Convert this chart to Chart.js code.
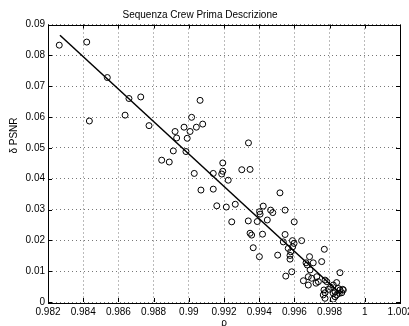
<!DOCTYPE html>
<html>
<head>
<meta charset="utf-8">
<script src="https://cdn.jsdelivr.net/npm/chart.js@4/dist/chart.umd.min.js"></script>
<style>
  body { margin: 0; background: #fff; }
  #wrap { width: 409px; height: 326px; }
</style>
</head>
<body>
<div id="wrap"><canvas id="myChart"></canvas></div>
<script>
// correlation coefficient (rho) against PSNR loss, one entry per frame
const rho = [
  0.98264, 0.9842, 0.98537, 0.9866, 0.98727, 0.98435, 0.98638, 0.98774, 0.99064, 0.99016,
  0.99079, 0.99043, 0.98973, 0.99007, 0.98922, 0.98931, 0.98991, 0.99339, 0.98912, 0.98984,
  0.98846, 0.98889, 0.99193, 0.99031, 0.99139, 0.99193, 0.99187, 0.99224, 0.99301, 0.99348,
  0.99069, 0.99139, 0.99159, 0.99213, 0.99264, 0.99518, 0.99423, 0.99402, 0.99405, 0.99465,
  0.99477, 0.99547, 0.99244, 0.99338, 0.99389, 0.99446, 0.99599, 0.99348, 0.99357, 0.99419,
  0.99547, 0.99537, 0.99589, 0.99598, 0.99641, 0.99366, 0.99565, 0.99579, 0.99575, 0.99575,
  0.9959, 0.99401, 0.99505, 0.99686, 0.9977, 0.99755, 0.99666, 0.99673, 0.99707, 0.99551,
  0.99585, 0.99689, 0.99859, 0.99651, 0.99679, 0.99698, 0.99727, 0.99736, 0.99723, 0.99774,
  0.99784, 0.99821, 0.9984, 0.99793, 0.99806, 0.99849, 0.99859, 0.99874, 0.99768, 0.99679,
  0.99764, 0.99774, 0.99821, 0.99831, 0.99831, 0.9984, 0.99855, 0.99869, 0.99878, 0.99821, 0.99774
];
const dPsnr = [
  0.0833, 0.0843, 0.0728, 0.066, 0.0665, 0.0587, 0.0606, 0.0572, 0.0654, 0.0599,
  0.0577, 0.0567, 0.0567, 0.0553, 0.0553, 0.0532, 0.0531, 0.0516, 0.049, 0.0488,
  0.046, 0.0454, 0.0451, 0.0417, 0.0417, 0.0424, 0.0415, 0.0395, 0.0429, 0.043,
  0.0363, 0.0366, 0.0312, 0.0308, 0.0317, 0.0354, 0.0311, 0.0293, 0.0285, 0.0298,
  0.029, 0.0298, 0.026, 0.0263, 0.0261, 0.0266, 0.026, 0.0223, 0.0217, 0.022,
  0.0219, 0.0195, 0.0199, 0.019, 0.0199, 0.0176, 0.0174, 0.0163, 0.0151, 0.0139,
  0.0179, 0.0147, 0.0152, 0.0147, 0.0171, 0.0131, 0.0127, 0.012, 0.0127, 0.0084,
  0.0098, 0.0104, 0.0095, 0.0069, 0.0082, 0.0077, 0.0082, 0.0066, 0.0061, 0.0071,
  0.0066, 0.0055, 0.0063, 0.0041, 0.0048, 0.0044, 0.0039, 0.0041, 0.0039, 0.0055,
  0.0023, 0.003, 0.0028, 0.0033, 0.0017, 0.0023, 0.0028, 0.003, 0.0039, 0.0009, 0.0012
];

// linear fit endpoints
const fitRho = [0.98268, 0.99865];
const fitPsnr = [0.0865, 0.0025];

// axis ranges / tick steps
const xMin = 0.982, xMax = 1.002, xStep = 0.002;
const yMin = 0, yMax = 0.09, yStep = 0.01;

const titleText = "Sequenza Crew Prima Descrizione";
const xLabel = "ρ";
const yLabel = "δ PSNR";

const FONT = "'Liberation Sans', Arial, Helvetica, sans-serif";

const points = rho.map((r, i) => ({ x: r, y: dPsnr[i] }));
const fitLine = fitRho.map((r, i) => ({ x: r, y: fitPsnr[i] }));

// matlab style box: solid frame, inward ticks on all four sides, rotated y label
const boxPlugin = {
  id: "matlabBox",
  afterDatasetsDraw(chart) {
    const { ctx, chartArea: a, scales } = chart;
    const len = 4;
    ctx.save();
    ctx.strokeStyle = "#000";
    ctx.lineWidth = 1;
    ctx.setLineDash([]);
    ctx.beginPath();
    scales.x.ticks.forEach((t) => {
      const px = Math.round(scales.x.getPixelForValue(t.value)) + 0.5;
      ctx.moveTo(px, a.bottom);
      ctx.lineTo(px, a.bottom - len);
      ctx.moveTo(px, a.top);
      ctx.lineTo(px, a.top + len);
    });
    scales.y.ticks.forEach((t) => {
      const py = Math.round(scales.y.getPixelForValue(t.value)) + 0.5;
      ctx.moveTo(a.left, py);
      ctx.lineTo(a.left + len, py);
      ctx.moveTo(a.right, py);
      ctx.lineTo(a.right - len, py);
    });
    ctx.stroke();
    ctx.strokeRect(Math.round(a.left) + 0.5, Math.round(a.top) + 0.5,
      Math.round(a.right - a.left), Math.round(a.bottom - a.top));

    ctx.fillStyle = "#000";
    ctx.font = "10px " + FONT;
    ctx.textAlign = "center";
    ctx.textBaseline = "middle";
    ctx.translate(14, a.top + (a.bottom - a.top) * 0.4);
    ctx.rotate(-Math.PI / 2);
    ctx.fillText(yLabel, 0, 0);
    ctx.restore();
  },
};

Chart.defaults.font.family = FONT;
Chart.defaults.font.size = 10;
Chart.defaults.color = "#000";

new Chart("myChart", {
  type: "scatter",
  data: {
    datasets: [
      {
        data: points,
        pointStyle: "circle",
        pointRadius: 3,
        pointBorderWidth: 1,
        borderColor: "#000",
        backgroundColor: "rgba(0,0,0,0)",
      },
      {
        data: fitLine,
        showLine: true,
        pointRadius: 0,
        borderColor: "#000",
        borderWidth: 1.5,
        fill: false,
      },
    ],
  },
  options: {
    responsive: true,
    maintainAspectRatio: false,
    animation: false,
    layout: { padding: { left: 0, right: 9, top: 0, bottom: 0 } },
    plugins: {
      legend: { display: false },
      tooltip: { enabled: false },
      title: {
        display: true,
        text: titleText,
        color: "#000",
        font: { size: 10, weight: "normal", lineHeight: 1.2 },
        padding: { top: 9, bottom: 3.5 },
      },
    },
    scales: {
      x: {
        type: "linear",
        min: xMin,
        max: xMax,
        border: { display: false, dash: [1, 3] },
        grid: { color: "#777", drawTicks: false },
        ticks: {
          stepSize: xStep,
          padding: 4,
          maxRotation: 0,
          autoSkip: false,
          callback: (v) => String(+v.toFixed(3)),
        },
        title: {
          display: true,
          text: xLabel,
          font: { size: 10 },
          padding: { top: 0, bottom: -3 },
        },
        afterFit(scale) {
          scale.height = 24;
          scale.paddingLeft = 0;
          scale.paddingRight = 0;
        },
      },
      y: {
        type: "linear",
        min: yMin,
        max: yMax,
        border: { display: false, dash: [1, 3] },
        grid: { color: "#777", drawTicks: false },
        ticks: {
          stepSize: yStep,
          padding: 3,
          autoSkip: false,
          callback: (v) => String(+v.toFixed(2)),
        },
        afterFit(scale) {
          scale.width = 48;
        },
      },
    },
  },
  plugins: [boxPlugin],
});
</script>
</body>
</html>
